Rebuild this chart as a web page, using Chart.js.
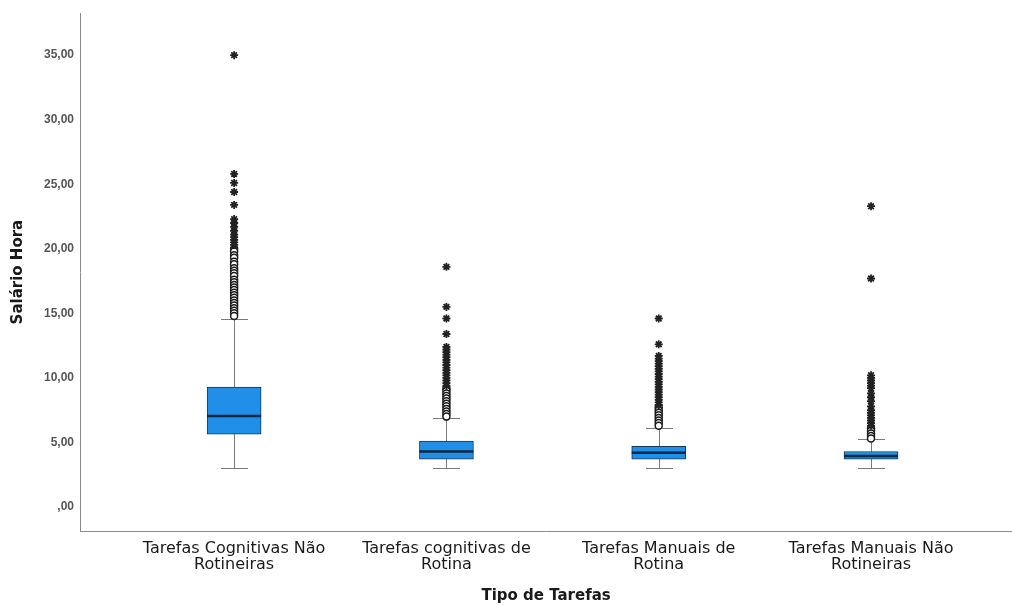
<!DOCTYPE html>
<html lang="pt">
<head>
  <meta charset="utf-8">
  <title>Salário Hora por Tipo de Tarefas</title>
  <script src="https://cdn.jsdelivr.net/npm/chart.js"></script>
  <style>
    body { margin: 0; background: #fff; overflow: hidden; }
    .wrap { width: 1012px; height: 605px; overflow: hidden; }
  </style>
</head>
<body>
  <div class="wrap"><canvas id="boxChart" width="1018" height="605"></canvas></div>

  <script>
    // categories and box statistics
    const categories = [
      ['Tarefas Cognitivas Não', 'Rotineiras'],
      ['Tarefas cognitivas de', 'Rotina'],
      ['Tarefas Manuais de', 'Rotina'],
      ['Tarefas Manuais Não', 'Rotineiras']
    ];
    const positions = [1, 2, 3, 4];
    const whiskerLow = [3.0, 3.0, 3.0, 3.0];
    const q1 = [5.65, 3.7, 3.7, 3.7];
    const median = [7.04, 4.3, 4.2, 3.95];
    const q3 = [9.28, 5.1, 4.7, 4.3];
    const whiskerHigh = [14.6, 6.9, 6.1, 5.25];

    // outliers: circles (1.5-3 IQR) and stars (extreme)
    const circleOutliers = [
      [20.0, 19.8, 19.5, 19.3, 19.0, 18.8, 18.5, 18.3, 18.1, 17.9, 17.6, 17.4, 17.2, 17.0,
       16.8, 16.6, 16.4, 16.2, 16.0, 15.8, 15.6, 15.4, 15.2, 15.0, 14.8],
      [9.2, 9.0, 8.8, 8.6, 8.4, 8.2, 8.0, 7.8, 7.6, 7.4, 7.2, 7.0],
      [7.7, 7.5, 7.3, 7.1, 6.9, 6.7, 6.5, 6.3],
      [6.1, 5.9, 5.7, 5.5, 5.3]
    ];
    const starOutliers = [
      [35.0, 25.8, 25.1, 24.4, 23.4, 22.3, 22.0, 21.7, 21.4, 21.1, 20.9, 20.7, 20.5, 20.3],
      [18.6, 15.5, 14.6, 13.4, 12.4, 12.2, 12.0, 11.8, 11.6, 11.4, 11.2, 11.0, 10.8, 10.6,
       10.4, 10.2, 10.0, 9.8, 9.6, 9.4],
      [14.6, 12.6, 11.7, 11.5, 11.3, 11.1, 10.9, 10.7, 10.5, 10.3, 10.1, 9.9, 9.7, 9.5,
       9.3, 9.1, 8.9, 8.7, 8.5, 8.3, 8.1, 7.9],
      [23.3, 17.7, 10.2, 10.0, 9.8, 9.6, 9.4, 9.2, 8.8, 8.5, 8.2, 7.8, 7.5, 7.3, 7.1,
       6.9, 6.7, 6.5, 6.3]
    ];
    const yTicks = [0, 5, 10, 15, 20, 25, 30, 35];

    const boxColor = '#1f8fe8';
    const boxBorder = '#1b3552';
    const whiskerColor = '#7a7a7a';

    function flatten(groups) {
      const pts = [];
      groups.forEach((vals, i) => vals.forEach(v => pts.push({ x: positions[i], y: v })));
      return pts;
    }

    // whiskers behind the boxes, median line on top
    const boxParts = {
      id: 'boxParts',
      beforeDatasetsDraw(chart) {
        const ctx = chart.ctx, xs = chart.scales.x, ys = chart.scales.y;
        ctx.save();
        ctx.strokeStyle = whiskerColor;
        ctx.lineWidth = 1;
        positions.forEach((p, i) => {
          const cx = Math.round(xs.getPixelForValue(p)) + 0.5;
          const yLo = ys.getPixelForValue(whiskerLow[i]);
          const yHi = ys.getPixelForValue(whiskerHigh[i]);
          const half = 13.5;
          ctx.beginPath();
          ctx.moveTo(cx, yLo); ctx.lineTo(cx, yHi);
          ctx.moveTo(cx - half, Math.round(yLo) + 0.5); ctx.lineTo(cx + half, Math.round(yLo) + 0.5);
          ctx.moveTo(cx - half, Math.round(yHi) + 0.5); ctx.lineTo(cx + half, Math.round(yHi) + 0.5);
          ctx.stroke();
        });
        ctx.restore();
      },
      afterDatasetDraw(chart, args) {
        if (args.index !== 0) return;
        const ctx = chart.ctx, xs = chart.scales.x, ys = chart.scales.y;
        ctx.save();
        ctx.strokeStyle = '#0d2844';
        ctx.lineWidth = 2.5;
        positions.forEach((p, i) => {
          const cx = xs.getPixelForValue(p);
          const y = ys.getPixelForValue(median[i]);
          ctx.beginPath();
          ctx.moveTo(cx - 27, y); ctx.lineTo(cx + 27, y);
          ctx.stroke();
        });
        ctx.restore();
      }
    };

    new Chart(document.getElementById('boxChart'), {
      data: {
        datasets: [
          {
            type: 'bar',
            data: positions.map((p, i) => ({ x: p, y: [q1[i], q3[i]] })),
            backgroundColor: boxColor,
            borderColor: boxBorder,
            borderWidth: 1,
            borderSkipped: false,
            barThickness: 54,
            order: 3
          },
          {
            type: 'scatter',
            data: flatten(circleOutliers),
            pointStyle: 'circle',
            radius: 3.5,
            backgroundColor: '#ffffff',
            borderColor: '#1a1a1a',
            borderWidth: 1.5,
            order: 2
          },
          {
            type: 'scatter',
            data: flatten(starOutliers),
            pointStyle: 'star',
            radius: 4,
            backgroundColor: '#222222',
            borderColor: '#222222',
            borderWidth: 1.8,
            order: 1
          }
        ]
      },
      options: {
        responsive: false,
        animation: false,
        layout: { padding: { top: 12, right: 0, left: 0, bottom: 0 } },
        plugins: {
          legend: { display: false },
          tooltip: { enabled: false }
        },
        scales: {
          x: {
            type: 'linear',
            offset: false,
            min: 0.274,
            max: 4.665,
            afterBuildTicks: s => { s.ticks = positions.map(v => ({ value: v })); },
            afterFit: s => { s.height = 74; },
            grid: { display: false, drawTicks: false, offset: false },
            border: { display: true, color: '#8a8a8a', width: 1 },
            ticks: {
              autoSkip: false,
              maxRotation: 0,
              padding: 10,
              color: '#1a1a1a',
              font: { family: 'DejaVu Sans', size: 16, lineHeight: 1.0 },
              callback: v => categories[positions.indexOf(v)] || ''
            },
            title: {
              display: true,
              text: 'Tipo de Tarefas',
              color: '#1a1a1a',
              font: { family: 'DejaVu Sans', size: 15, weight: 'bold' },
              padding: { top: 0, bottom: 0 }
            }
          },
          y: {
            type: 'linear',
            min: -1.86,
            max: 38.25,
            afterBuildTicks: s => { s.ticks = yTicks.map(v => ({ value: v })); },
            afterFit: s => { s.width = 80; },
            grid: { display: false, drawTicks: false },
            border: { display: true, color: '#8a8a8a', width: 1 },
            ticks: {
              padding: 6,
              color: '#555555',
              font: { family: 'Liberation Sans', size: 12, weight: 'bold' },
              callback: v => v === 0 ? ',00' : v.toFixed(2).replace('.', ',')
            },
            title: {
              display: true,
              text: 'Salário Hora',
              color: '#1a1a1a',
              font: { family: 'DejaVu Sans', size: 15, weight: 'bold' },
              padding: { top: 9, bottom: 0 }
            }
          }
        }
      },
      plugins: [boxParts]
    });
  </script>
</body>
</html>
